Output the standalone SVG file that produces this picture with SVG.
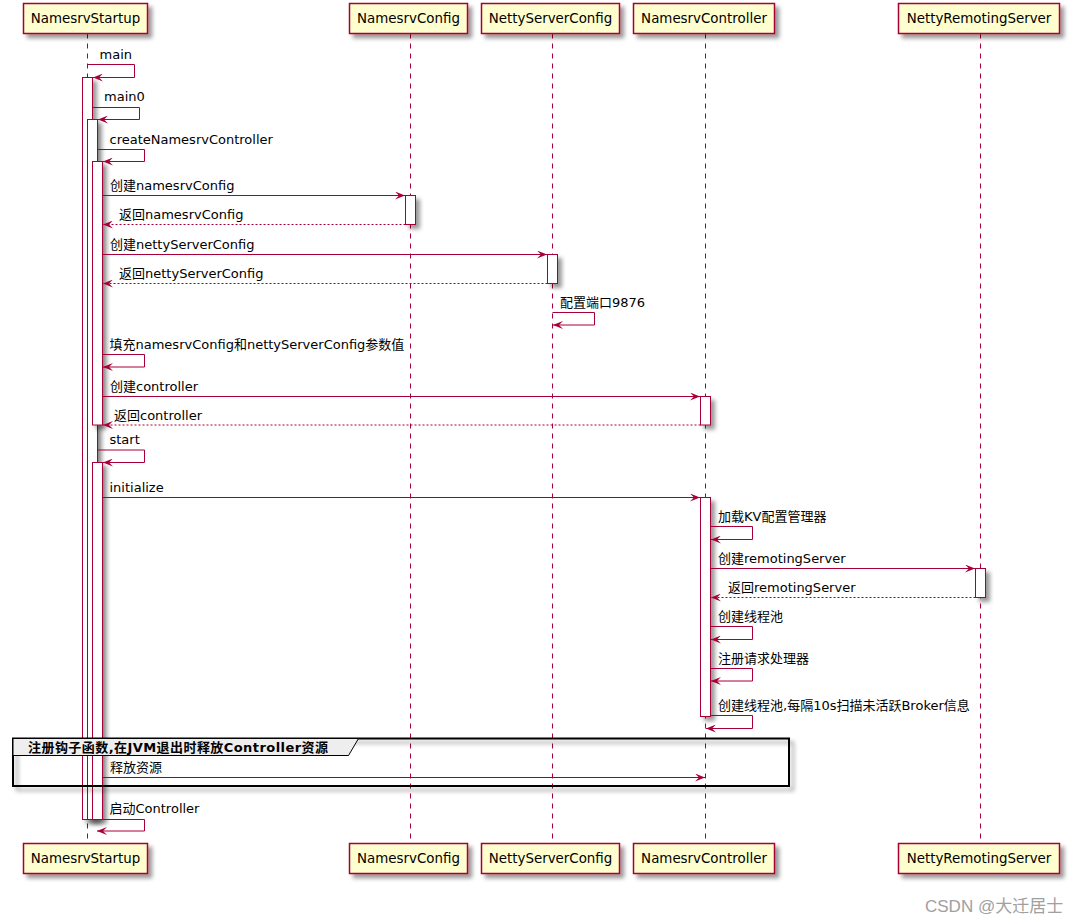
<svg xmlns="http://www.w3.org/2000/svg" width="1077" height="924" viewBox="0 0 1077 924">
<style>
.pbox{fill:#FEFECE;stroke:#A80036;stroke-width:1.5}
.ptxt{font-family:"DejaVu Sans","Noto Sans CJK SC",sans-serif;font-size:13.4px;fill:#000;text-anchor:middle}
.life{stroke:#A80036;stroke-width:1;stroke-dasharray:5,5;fill:none}
.act{fill:#FFFFFF;stroke:#A80036;stroke-width:1}
.msg{stroke:#A80036;stroke-width:1;fill:none;marker-end:url(#ah)}
.ret{stroke:#A80036;stroke-width:1;fill:none;stroke-dasharray:2,2;marker-end:url(#ah)}
.lbl{font-family:"DejaVu Sans","Noto Sans CJK SC",sans-serif;font-size:13px;fill:#000}
.glbl{font-family:"DejaVu Sans","Noto Sans CJK SC",sans-serif;font-size:13px;font-weight:bold;fill:#000}
</style>
<defs>
<filter id="sh" x="-20%" y="-20%" width="200%" height="200%">
<feDropShadow dx="4" dy="4" stdDeviation="2" flood-color="#000" flood-opacity="0.4"/>
</filter>
<marker id="ah" viewBox="0 0 10 8" refX="10" refY="4" markerWidth="10" markerHeight="8" markerUnits="userSpaceOnUse" orient="auto">
<path d="M0,0 L10,4 L0,8 L4,4 Z" fill="#A80036"/>
</marker>
</defs>
<rect x="0" y="0" width="1077" height="924" fill="#FFFFFF"/>

<g id="lifelines">
<line class="life" x1="87.5" y1="33.5" x2="87.5" y2="843.5"/>
<line class="life" x1="410.5" y1="33.5" x2="410.5" y2="843.5"/>
<line class="life" x1="552.5" y1="33.5" x2="552.5" y2="843.5"/>
<line class="life" x1="705.5" y1="33.5" x2="705.5" y2="843.5"/>
<line class="life" x1="980.5" y1="33.5" x2="980.5" y2="843.5"/>
</g>

<g id="p-NamesrvStartup">
<rect class="pbox" x="23.5" y="3.5" width="124" height="30" filter="url(#sh)"/>
<text class="ptxt" x="85.5" y="23">NamesrvStartup</text>
<rect class="pbox" x="23.5" y="843.5" width="124" height="30" filter="url(#sh)"/>
<text class="ptxt" x="85.5" y="863">NamesrvStartup</text>
</g>
<g id="p-NamesrvConfig">
<rect class="pbox" x="349.5" y="3.5" width="118" height="30" filter="url(#sh)"/>
<text class="ptxt" x="408.5" y="23">NamesrvConfig</text>
<rect class="pbox" x="349.5" y="843.5" width="118" height="30" filter="url(#sh)"/>
<text class="ptxt" x="408.5" y="863">NamesrvConfig</text>
</g>
<g id="p-NettyServerConfig">
<rect class="pbox" x="481.5" y="3.5" width="138" height="30" filter="url(#sh)"/>
<text class="ptxt" x="550.5" y="23">NettyServerConfig</text>
<rect class="pbox" x="481.5" y="843.5" width="138" height="30" filter="url(#sh)"/>
<text class="ptxt" x="550.5" y="863">NettyServerConfig</text>
</g>
<g id="p-NamesrvController">
<rect class="pbox" x="633.5" y="3.5" width="141" height="30" filter="url(#sh)"/>
<text class="ptxt" x="704" y="23">NamesrvController</text>
<rect class="pbox" x="633.5" y="843.5" width="141" height="30" filter="url(#sh)"/>
<text class="ptxt" x="704" y="863">NamesrvController</text>
</g>
<g id="p-NettyRemotingServer">
<rect class="pbox" x="898.5" y="3.5" width="161" height="30" filter="url(#sh)"/>
<text class="ptxt" x="979" y="23">NettyRemotingServer</text>
<rect class="pbox" x="898.5" y="843.5" width="161" height="30" filter="url(#sh)"/>
<text class="ptxt" x="979" y="863">NettyRemotingServer</text>
</g>

<g id="activations">
<rect class="act" x="82.5" y="77.5" width="10" height="742" filter="url(#sh)"/>
<rect class="act" x="87.5" y="119.5" width="10" height="700" filter="url(#sh)"/>
<rect class="act" x="92.5" y="161.5" width="10" height="263.5" filter="url(#sh)"/>
<rect class="act" x="92.5" y="462.5" width="10" height="357" filter="url(#sh)"/>
<rect class="act" x="405.5" y="195.5" width="10" height="29" filter="url(#sh)"/>
<rect class="act" x="547.5" y="254.5" width="10" height="29" filter="url(#sh)"/>
<rect class="act" x="700.5" y="396.5" width="10" height="28.5" filter="url(#sh)"/>
<rect class="act" x="700.5" y="497.5" width="10" height="219" filter="url(#sh)"/>
<rect class="act" x="975.5" y="568.5" width="10" height="29" filter="url(#sh)"/>
</g>

<g id="group-hook">
<rect x="13" y="738.5" width="776" height="47.5" fill="none" stroke="#000" stroke-width="2" filter="url(#sh)"/>
<polygon points="13,738.5 358.5,738.5 348.5,755.5 13,755.5" fill="#EEEEEE" stroke="#000" stroke-width="1"/>
<text class="glbl" x="28" y="752" textLength="300" lengthAdjust="spacing">注册钩子函数,在JVM退出时释放Controller资源</text>
</g>

<g id="connectors">
<path class="msg" d="M87.5,64.5 H134.5 V77.5 H93"/>
<text class="lbl" x="99.5" y="58.5">main</text>
<path class="msg" d="M92.5,107.5 H139.5 V119.5 H98"/>
<text class="lbl" x="104" y="101">main0</text>
<path class="msg" d="M97.5,149.5 H144.5 V161.5 H103"/>
<text class="lbl" x="109.5" y="143.5">createNamesrvController</text>
<path class="msg" d="M102.5,195.5 H405"/>
<text class="lbl" x="110" y="190">创建namesrvConfig</text>
<path class="ret" d="M405.5,224.5 H103"/>
<text class="lbl" x="119" y="219">返回namesrvConfig</text>
<path class="msg" d="M102.5,254.5 H547"/>
<text class="lbl" x="110" y="249">创建nettyServerConfig</text>
<path class="ret" d="M547.5,283.5 H103"/>
<text class="lbl" x="119" y="278">返回nettyServerConfig</text>
<path class="msg" d="M552.5,312.5 H594.5 V325 H553"/>
<text class="lbl" x="560" y="307">配置端口9876</text>
<path class="msg" d="M102.5,354.5 H144.5 V367 H103"/>
<text class="lbl" x="109.5" y="349">填充namesrvConfig和nettyServerConfig参数值</text>
<path class="msg" d="M102.5,396.5 H700"/>
<text class="lbl" x="110" y="391">创建controller</text>
<path class="ret" d="M700.5,425 H103"/>
<text class="lbl" x="114" y="420">返回controller</text>
<path class="msg" d="M97.5,450 H144.5 V462.5 H103"/>
<text class="lbl" x="109.5" y="444">start</text>
<path class="msg" d="M102.5,497.5 H700"/>
<text class="lbl" x="109.5" y="492">initialize</text>
<path class="msg" d="M710.5,526.5 H752.5 V539.5 H711"/>
<text class="lbl" x="718" y="521">加载KV配置管理器</text>
<path class="msg" d="M710.5,568.5 H975"/>
<text class="lbl" x="718" y="563">创建remotingServer</text>
<path class="ret" d="M975.5,597.5 H711"/>
<text class="lbl" x="728" y="592">返回remotingServer</text>
<path class="msg" d="M710.5,626.5 H752.5 V639.5 H711"/>
<text class="lbl" x="718" y="621">创建线程池</text>
<path class="msg" d="M710.5,668.5 H752.5 V681 H711"/>
<text class="lbl" x="718" y="663">注册请求处理器</text>
<path class="msg" d="M710.5,715.5 H752.5 V728.5 H706"/>
<text class="lbl" x="718" y="710">创建线程池,每隔10s扫描未活跃Broker信息</text>
<path class="msg" d="M102.5,777.5 H705"/>
<text class="lbl" x="110" y="772">释放资源</text>
<path class="msg" d="M102.5,819.5 H144.5 V831 H97"/>
<text class="lbl" x="109.5" y="813">启动Controller</text>
</g>

<text x="925" y="912" font-family="'Liberation Sans','Noto Sans CJK SC',sans-serif" font-size="17" fill="#A0A0A0">CSDN @大迁居士</text>
</svg>
